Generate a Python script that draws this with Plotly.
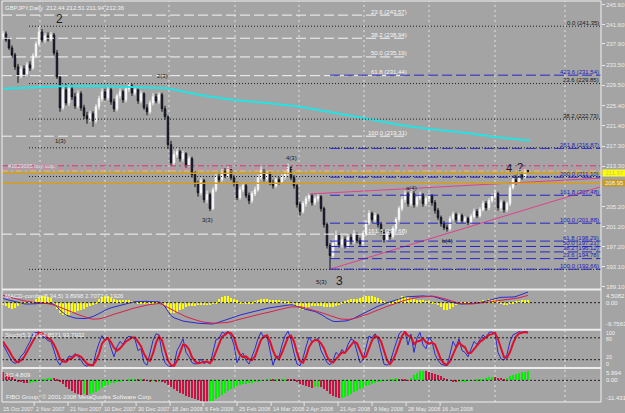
import plotly.graph_objects as go

# ------------------------------------------------------------------ data
opens = [239.2, 239.8, 238.6, 237.0, 235.6, 233.2, 231.4, 232.8, 231.8, 233.6,
         233.0, 235.4, 237.8, 240.2, 238.6, 239.4, 238.8, 239.6, 236.0, 231.2,
         225.0, 228.6, 226.0, 228.8, 227.2, 225.4, 227.8, 225.0, 223.4, 222.8,
         223.8, 222.4, 225.2, 226.8, 228.2, 227.0, 228.6, 226.2, 224.8, 227.4,
         228.2, 226.6, 228.8, 229.4, 228.0, 228.6, 226.4, 227.8, 225.0, 224.2,
         226.0, 227.2, 226.4, 227.6, 224.8, 223.2, 217.6, 214.0, 215.6, 216.2,
         214.8, 215.8, 213.6, 214.8, 211.6, 209.8, 208.0, 210.4, 206.6, 207.6,
         204.8, 208.6, 211.2, 210.6, 212.2, 211.4, 212.6, 211.0, 209.8, 207.0,
         208.6, 209.4, 207.4, 206.4, 207.8, 208.6, 211.0, 212.4, 210.8, 211.8,
         210.0, 209.4, 210.6, 210.2, 211.2, 211.8, 213.0, 211.0, 209.4, 205.6,
         204.2, 205.8, 206.8, 207.4, 206.0, 206.8, 207.2, 204.8, 201.6, 197.4,
         195.4, 197.8, 199.4, 197.6, 198.6, 197.4, 199.0, 198.2, 199.6, 198.4,
         197.8, 199.8, 202.0, 203.8, 202.6, 203.4, 201.6, 200.0, 198.6, 199.6,
         199.2, 200.8, 202.6, 204.8, 206.6, 207.8, 205.8, 207.8, 205.6, 207.0,
         207.6, 205.8, 206.8, 207.4, 206.0, 204.4, 203.0, 201.8, 201.0, 200.8,
         202.8, 203.6, 202.6, 203.4, 202.4, 202.8, 202.0, 203.2, 204.2, 203.4,
         204.6, 205.8, 205.0, 206.4, 207.2, 207.8, 205.0, 206.0, 204.6, 205.8,
         209.0, 210.6, 210.2, 211.4, 211.2, 212.44]
highs = [240.4, 240.3, 239.1, 237.5, 236.0, 233.8, 233.4, 233.5, 234.2, 234.3,
         235.9, 238.3, 241.35, 240.8, 239.9, 240.1, 240.2, 240.0, 236.6, 231.5,
         229.4, 229.8, 229.6, 229.7, 228.0, 228.5, 228.3, 225.6, 224.2, 224.4,
         224.3, 225.7, 227.4, 228.9, 228.8, 229.1, 229.0, 226.8, 227.8, 228.9,
         228.6, 229.3, 230.1, 229.8, 229.2, 228.9, 228.4, 228.1, 225.7, 226.5,
         227.9, 227.8, 228.1, 228.0, 225.4, 223.5, 218.4, 216.4, 216.9, 216.6,
         216.4, 216.1, 215.4, 215.2, 212.3, 210.4, 211.0, 210.8, 208.4, 208.0,
         209.1, 211.8, 212.0, 212.8, 212.9, 213.4, 213.0, 211.5, 210.2, 209.2,
         210.0, 209.8, 208.0, 208.3, 209.2, 211.6, 213.2, 212.8, 212.4, 212.2,
         210.6, 211.0, 211.1, 211.7, 212.3, 213.8, 213.3, 211.5, 209.8, 206.2,
         206.3, 207.3, 207.9, 207.8, 207.3, 207.8, 207.5, 205.2, 202.0, 197.9,
         198.6, 200.4, 199.9, 199.4, 199.2, 199.7, 199.6, 200.5, 200.0, 199.0,
         200.3, 202.5, 204.5, 204.2, 204.0, 203.8, 202.1, 200.6, 200.2, 200.3,
         201.3, 203.1, 205.3, 207.3, 208.4, 208.2, 208.8, 208.3, 207.6, 208.2,
         207.9, 207.3, 208.0, 207.7, 206.5, 204.9, 203.4, 202.3, 201.6, 203.3,
         204.2, 204.0, 203.9, 203.8, 203.3, 203.2, 203.7, 204.8, 204.7, 205.1,
         206.4, 206.3, 206.9, 207.8, 208.6, 208.2, 206.6, 206.4, 206.2, 209.5,
         211.2, 211.0, 211.9, 212.0, 212.9, 212.51]
lows = [238.7, 238.2, 236.6, 235.0, 232.6, 230.0, 230.9, 231.2, 231.3, 232.4,
        232.6, 235.0, 237.4, 238.1, 238.0, 238.3, 238.3, 235.5, 230.8, 224.2,
        224.6, 225.5, 225.4, 226.6, 224.8, 224.9, 224.4, 222.7, 221.8, 222.2,
        221.2, 221.9, 224.6, 226.2, 226.4, 226.5, 225.6, 224.2, 224.3, 226.8,
        226.0, 226.1, 228.2, 227.4, 227.5, 225.8, 225.9, 224.6, 223.5, 223.8,
        225.5, 225.9, 225.8, 224.2, 222.6, 216.8, 213.4, 213.5, 215.0, 214.2,
        214.2, 213.0, 213.1, 211.0, 209.1, 207.2, 207.5, 206.0, 205.9, 204.3,
        204.5, 208.1, 210.0, 210.2, 210.9, 211.0, 210.5, 209.2, 206.5, 206.6,
        208.1, 206.9, 205.7, 205.9, 207.3, 208.2, 210.6, 210.2, 210.3, 209.5,
        208.8, 209.0, 209.6, 209.8, 210.6, 211.3, 210.5, 208.8, 205.0, 203.4,
        203.8, 205.2, 206.2, 205.4, 205.5, 206.2, 204.2, 201.0, 196.8, 192.66,
        194.9, 197.2, 197.0, 197.0, 196.8, 196.9, 197.6, 197.7, 197.9, 197.1,
        197.3, 199.3, 201.5, 202.0, 202.0, 201.0, 199.4, 198.0, 198.1, 198.6,
        198.8, 200.3, 202.1, 204.3, 206.0, 205.2, 205.3, 205.0, 205.1, 206.5,
        205.2, 205.3, 206.3, 205.4, 203.8, 202.5, 201.2, 200.5, 200.2, 200.4,
        202.3, 202.0, 202.1, 201.9, 202.0, 201.5, 201.6, 202.8, 202.9, 203.0,
        204.2, 204.4, 204.5, 206.0, 206.8, 204.4, 204.3, 204.0, 204.1, 205.3,
        208.6, 209.6, 209.7, 210.6, 210.8, 211.94]
closes = [239.8, 238.6, 237.0, 235.6, 233.2, 231.4, 232.8, 231.8, 233.6, 233.0,
          235.4, 237.8, 240.2, 238.6, 239.4, 238.8, 239.6, 236.0, 231.2, 225.0,
          228.6, 226.0, 228.8, 227.2, 225.4, 227.8, 225.0, 223.4, 222.8, 223.8,
          222.4, 225.2, 226.8, 228.2, 227.0, 228.6, 226.2, 224.8, 227.4, 228.2,
          226.6, 228.8, 229.4, 228.0, 228.6, 226.4, 227.8, 225.0, 224.2, 226.0,
          227.2, 226.4, 227.6, 224.8, 223.2, 217.6, 214.0, 215.6, 216.2, 214.8,
          215.8, 213.6, 214.8, 211.6, 209.8, 208.0, 210.4, 206.6, 207.6, 204.8,
          208.6, 211.2, 210.6, 212.2, 211.4, 212.6, 211.0, 209.8, 207.0, 208.6,
          209.4, 207.4, 206.4, 207.8, 208.6, 211.0, 212.4, 210.8, 211.8, 210.0,
          209.4, 210.6, 210.2, 211.2, 211.8, 213.0, 211.0, 209.4, 205.6, 204.2,
          205.8, 206.8, 207.4, 206.0, 206.8, 207.2, 204.8, 201.6, 197.4, 195.4,
          197.8, 199.4, 197.6, 198.6, 197.4, 199.0, 198.2, 199.6, 198.4, 197.8,
          199.8, 202.0, 203.8, 202.6, 203.4, 201.6, 200.0, 198.6, 199.6, 199.2,
          200.8, 202.6, 204.8, 206.6, 207.8, 205.8, 207.8, 205.6, 207.0, 207.6,
          205.8, 206.8, 207.4, 206.0, 204.4, 203.0, 201.8, 201.0, 200.8, 202.8,
          203.6, 202.6, 203.4, 202.4, 202.8, 202.0, 203.2, 204.2, 203.4, 204.6,
          205.8, 205.0, 206.4, 207.2, 207.8, 205.0, 206.0, 204.6, 205.8, 209.0,
          210.6, 210.2, 211.4, 211.2, 212.4, 212.36]

# moving average (cyan) vertices: bar index / value
ma_bars = [0, 9, 19, 32.3, 54.7, 65.7, 76.7, 88, 99, 120, 132.3, 142, 154.7, 164, 175.7]
ma_vals = [228.83, 229.1, 229.31, 229.37, 228.91, 227.56, 226.56, 225.96, 225.20,
           222.95, 221.55, 220.75, 219.95, 219.15, 218.41]

macd_main = [1.5, 1.2, 0.9, 0.6, 0.3, 0.0, -0.3, -0.4, -0.5, -0.5,
             -0.5, -0.4, -0.2, -0.2, -0.3, -0.3, -0.3, -0.6, -1.5, -2.8,
             -3.8, -4.6, -5.0, -5.4, -5.7, -5.8, -5.9, -5.9, -5.8, -5.5,
             -5.1, -4.6, -4.0, -3.3, -2.8, -2.3, -1.9, -1.6, -1.2, -0.9,
             -0.6, -0.3, 0.0, 0.3, 0.4, 0.4, 0.5, 0.5, 0.5, 0.4,
             0.4, 0.3, 0.3, -0.4, -1.5, -3.2, -4.8, -5.6, -6.1, -6.5,
             -6.8, -7.0, -7.2, -7.3, -7.5, -7.6, -7.7, -7.8, -7.9, -8.0,
             -7.9, -7.6, -7.2, -6.8, -6.5, -6.1, -5.7, -5.3, -4.9, -4.6,
             -4.3, -4.0, -3.8, -3.5, -3.2, -2.9, -2.6, -2.3, -2.1, -1.9,
             -1.7, -1.5, -1.3, -1.2, -1.1, -0.9, -0.8, -0.9, -1.4, -1.9,
             -2.2, -2.5, -2.7, -3.0, -3.3, -3.8, -4.3, -5.0, -5.8, -6.5,
             -6.9, -7.0, -7.0, -6.9, -6.8, -6.6, -6.3, -5.8, -5.2, -4.6,
             -4.0, -3.4, -2.8, -2.3, -1.8, -1.3, -0.9, -0.4, 0.0, 0.3,
             0.6, 1.0, 1.5, 1.8, 2.1, 2.2, 2.3, 2.4, 2.4, 2.5,
             2.5, 2.4, 2.4, 2.4, 2.1, 1.7, 1.3, 1.0, 0.7, 0.3,
             0.0, -0.3, -0.4, -0.5, -0.5, -0.5, -0.3, -0.2, -0.1, 0.1,
             0.3, 0.6, 0.9, 1.2, 1.6, 1.9, 2.0, 2.0, 2.0, 2.0,
             2.1, 2.3, 2.7, 3.1, 3.5, 3.8998]
macd_signal = [2.7, 2.4, 2.1, 1.8, 1.4, 1.1, 0.9, 0.7, 0.5, 0.4,
               0.2, 0.1, 0.0, -0.1, -0.3, -0.4, -0.6, -0.8, -1.2, -1.7,
               -2.2, -2.7, -3.1, -3.6, -4.0, -4.4, -4.8, -5.2, -5.6, -5.9,
               -6.1, -6.1, -6.0, -5.8, -5.5, -5.1, -4.7, -4.3, -4.0, -3.7,
               -3.3, -3.0, -2.6, -2.2, -1.9, -1.6, -1.3, -1.1, -0.9, -0.7,
               -0.5, -0.4, -0.3, -0.6, -1.1, -1.7, -2.4, -3.0, -3.6, -4.2,
               -4.7, -5.2, -5.6, -6.0, -6.4, -6.8, -7.0, -7.2, -7.4, -7.5,
               -7.6, -7.6, -7.6, -7.5, -7.4, -7.3, -7.1, -6.8, -6.4, -6.1,
               -5.8, -5.5, -5.2, -4.9, -4.7, -4.4, -4.2, -3.9, -3.7, -3.4,
               -3.1, -2.8, -2.5, -2.2, -2.0, -1.8, -1.6, -1.5, -1.5, -1.5,
               -1.7, -2.0, -2.3, -2.6, -2.9, -3.2, -3.6, -4.0, -4.4, -4.8,
               -5.2, -5.6, -5.9, -6.1, -6.2, -6.2, -6.1, -5.9, -5.6, -5.2,
               -4.9, -4.5, -4.1, -3.6, -3.1, -2.7, -2.2, -1.8, -1.4, -1.0,
               -0.6, -0.2, 0.3, 0.6, 0.9, 1.2, 1.5, 1.7, 1.9, 2.1,
               2.2, 2.3, 2.4, 2.4, 2.3, 2.1, 1.8, 1.5, 1.2, 0.9,
               0.5, 0.1, -0.3, -0.4, -0.5, -0.5, -0.5, -0.4, -0.3, -0.2,
               -0.1, 0.0, 0.2, 0.4, 0.6, 0.8, 1.0, 1.1, 1.2, 1.3,
               1.4, 1.5, 1.8, 2.1, 2.4, 2.7072]
macd_hist = [-0.5, -1.2, -1.8, -2.0, -1.7, -1.2, 0.2, 0.3, 0.3, 0.4,
             0.8, 1.6, 2.3, 2.6, 2.7, 2.4, 1.9, 0.6, -2.0, -3.8,
             -4.5, -4.6, -4.2, -3.8, -3.4, -3.0, -2.5, -2.0, -1.5, -1.0,
             -0.5, 0.4, 1.4, 2.2, 2.7, 2.5, 2.0, 1.6, 1.3, 1.2,
             1.1, 1.0, 1.0, 0.9, 0.8, 0.7, 0.6, 0.5, 0.5, 0.4,
             0.3, 0.2, 0.2, -0.3, -1.2, -2.6, -3.6, -3.8, -3.3, -2.6,
             -2.0, -1.5, -1.2, -1.0, -0.9, -0.8, -0.7, -0.6, -0.5, -0.4,
             -0.2, 0.6, 1.4, 2.2, 2.7, 2.5, 2.0, 1.5, 1.0, 0.6,
             0.5, 0.5, 0.4, 0.5, 0.8, 1.2, 1.5, 1.6, 1.5, 1.3,
             1.2, 1.1, 1.0, 0.9, 0.8, 0.7, 0.5, -0.6, -1.5, -2.2,
             -2.4, -2.0, -1.6, -1.2, -1.0, -1.0, -1.1, -1.3, -1.5, -1.6,
             -1.5, -1.2, -0.6, 0.3, 0.8, 1.2, 1.4, 1.5, 1.7, 2.0,
             2.3, 2.6, 2.7, 2.5, 2.2, 1.8, 1.3, 0.8, 0.4, 0.3,
             0.6, 1.2, 2.0, 2.6, 2.7, 2.4, 1.9, 1.5, 1.2, 1.1,
             1.0, 0.9, 0.8, 0.6, 0.2, -0.6, -1.6, -2.4, -2.7, -2.3,
             -1.4, -0.4, 0.2, 0.4, 0.5, 0.5, 0.5, 0.5, 0.6, 0.8,
             1.1, 1.3, 1.5, 1.5, 1.4, 1.0, -0.2, -0.5, -0.4, 0.2,
             0.6, 0.8, 0.9, 1.0, 1.1, 1.1926]

stoch_k = [62, 45, 28, 15, 10, 14, 30, 38, 55, 70,
           92, 95, 96, 85, 80, 72, 70, 45, 18, 5,
           22, 15, 30, 28, 37, 30, 18, 6, 2, 8,
           4, 40, 65, 86, 72, 80, 52, 28, 55, 70,
           62, 78, 84, 82, 76, 45, 50, 12, 5, 35,
           72, 91, 88, 40, 12, 3, 1, 6, 45, 60,
           77, 40, 28, 12, 8, 10, 22, 9, 15, 8,
           40, 75, 78, 95, 92, 98, 85, 60, 12, 30,
           38, 18, 8, 30, 50, 78, 95, 80, 85, 45,
           5, 30, 28, 60, 85, 98, 75, 38, 8, 3,
           25, 55, 82, 68, 72, 78, 45, 30, 12, 6,
           18, 40, 32, 48, 38, 62, 77, 72, 45, 12,
           20, 55, 85, 80, 91, 75, 45, 8, 5, 12,
           40, 65, 90, 100, 98, 60, 90, 40, 80, 95,
           60, 50, 82, 70, 35, 18, 8, 5, 4, 35,
           70, 55, 77, 45, 40, 28, 50, 70, 62, 75,
           88, 80, 95, 96, 92, 40, 22, 19, 35, 70,
           88, 92, 97, 95, 98, 94.86]
stoch_d = [70, 58, 45, 30, 18, 13, 18, 27, 41, 54,
           72, 86, 94, 92, 87, 79, 74, 62, 44, 23,
           15, 14, 22, 24, 32, 32, 28, 18, 9, 5,
           5, 17, 36, 64, 74, 79, 68, 53, 45, 51,
           62, 70, 75, 81, 81, 68, 57, 36, 22, 17,
           37, 66, 84, 73, 47, 18, 5, 3, 17, 37,
           61, 59, 48, 27, 16, 10, 13, 14, 15, 11,
           21, 41, 64, 83, 88, 95, 92, 81, 52, 34,
           27, 29, 21, 19, 29, 53, 74, 84, 87, 70,
           45, 27, 21, 39, 58, 81, 86, 70, 40, 16,
           12, 28, 54, 68, 74, 73, 65, 51, 29, 16,
           12, 21, 30, 40, 39, 49, 59, 70, 65, 43,
           26, 29, 53, 73, 85, 82, 70, 43, 19, 8,
           19, 39, 65, 85, 96, 86, 83, 63, 70, 72,
           78, 68, 64, 67, 62, 41, 20, 10, 6, 15,
           36, 53, 67, 59, 54, 38, 39, 49, 61, 69,
           75, 81, 88, 90, 94, 76, 51, 27, 25, 41,
           64, 83, 92, 95, 96, 93.79]

ao_vals = [4.5, 3.6, 2.6, 1.6, 0.6, -0.4, -0.9, -1.3, -1.4, -1.2,
           -0.9, -0.5, 0.0, 0.4, 0.8, 1.1, 1.3, 1.2, 0.6, -0.8,
           -2.0, -3.4, -4.6, -5.6, -6.6, -7.4, -7.6, -7.3, -7.5, -7.0,
           -6.8, -6.0, -5.0, -4.0, -3.0, -2.2, -1.6, -1.2, -0.9, -0.5,
           -0.3, 0.0, 0.2, 0.4, 0.5, 0.4, 0.5, 0.2, -0.2, -0.4,
           -0.3, -0.6, -0.5, -0.8, -1.2, -2.2, -3.4, -4.6, -5.6, -6.5,
           -7.4, -8.2, -8.9, -9.5, -10.1, -10.6, -10.9, -11.2, -11.43, -11.3,
           -10.8, -10.0, -9.0, -7.9, -6.8, -5.7, -4.6, -3.8, -3.2, -2.6,
           -2.1, -1.8, -1.6, -1.3, -1.0, -0.6, -0.3, 0.0, 0.3, 0.5,
           0.4, 0.6, 0.5, 0.7, 0.8, 0.6, 0.5, 0.2, -0.8, -1.8,
           -2.6, -3.2, -3.5, -3.8, -3.6, -3.3, -3.6, -4.4, -5.6, -7.0,
           -8.2, -9.0, -9.4, -9.2, -8.7, -8.0, -7.2, -6.3, -5.4, -4.6,
           -3.8, -3.1, -2.4, -1.8, -1.3, -0.9, -0.6, -0.3, 0.1, 0.4,
           0.7, 1.0, 0.9, 0.6, 0.3, 0.1, 1.4, 2.8, 4.0, 4.7,
           5.0, 4.8, 4.5, 4.1, 3.6, 3.0, 2.3, 1.5, 0.7, 0.0,
           -0.6, -1.0, -0.9, -0.7, -0.5, -0.3, -0.1, 0.1, 0.3, 0.6,
           0.9, 1.3, 1.6, 1.9, 1.7, 1.4, 1.1, 0.9, 1.5, 2.2,
           2.9, 3.5, 4.0, 4.4, 4.6, 4.809]

n = len(closes)
for name, arr in [("opens", opens), ("highs", highs), ("lows", lows), ("macd_main", macd_main),
                  ("macd_signal", macd_signal), ("macd_hist", macd_hist), ("stoch_k", stoch_k),
                  ("stoch_d", stoch_d), ("ao_vals", ao_vals)]:
    if len(arr) != n:
        raise ValueError(f"{name} has {len(arr)} values, expected {n}")
bars = list(range(n))

# Fibonacci / level objects
white_fib_levels = [243.57, 238.94, 235.19, 231.44, 219.31, 199.68]
white_fib_labels = ["23.6 (243.57)", "38.2 (238.94)", "50.0 (235.19)", "61.8 (231.44)",
                    "100.0 (219.31)", "161.8 (199.68)"]
black_fib_levels = [241.35, 229.85, 222.73, 216.98, 211.23, 192.62]
black_fib_labels = ["0.0 (241.35)", "23.6 (229.85)", "38.2 (222.73)", "", "", ""]
blue_fib_levels = [231.54, 216.87, 211.10, 207.48, 201.88, 198.29, 197.21, 196.12, 194.78, 192.66]
blue_fib_labels = ["423.6 (231.54)", "261.8 (216.87)", "200.0 (211.10)", "161.8 (207.48)",
                   "100.0 (201.88)", "61.8 (198.29)", "50.0 (197.21)", "38.2 (196.12)",
                   "23.6 (194.78)", "100.0 (192.66)"]
order_levels = [213.38, 212.84, 212.33]
order_colors = ["#e0307a", "#e87aa8", "#e6c45a"]
orange_levels = [211.87, 209.87]

trend_lower_bars, trend_lower_vals = [109, 199], [192.66, 209.13]
trend_upper_bars, trend_upper_vals = [102, 199.3], [207.72, 210.90]

# 209.20 sits under the highlighted 208.95 price box, as in the reference
price_ticks = [245.60, 241.60, 237.90, 233.50, 229.50, 225.40, 221.40, 217.30,
               213.30, 205.20, 201.20, 197.20, 193.10, 189.10]

date_labels = ["15 Oct 2007", "2 Nov 2007", "21 Nov 2007", "10 Dec 2007", "30 Dec 2007",
               "18 Jan 2008", "6 Feb 2008", "25 Feb 2008", "14 Mar 2008", "2 Apr 2008",
               "21 Apr 2008", "9 May 2008", "28 May 2008", "16 Jun 2008"]
date_bars = [-0.33, 10.67, 22, 33.33, 44.67, 56, 67, 78.33, 89.67, 100.67, 112, 123.33, 134.67, 146]
grid_bars = [12.33, 34, 55.33, 77.33, 98.67, 120.33, 142, 164, 187.33]

wave_labels = [("2", 18.7, 242.8, 12), ("2(3)", 53.3, 231.4, 6), ("1", 54.3, 224.0, 8),
               ("1(3)", 19, 218.35, 6), ("3(3)", 68, 202.5, 6), ("4(3)", 96, 214.95, 6),
               ("5(3)", 106, 190.1, 6), ("3", 112, 190.3, 12), ("a(4)", 136.3, 208.9, 6),
               ("b(4)", 148, 198.3, 6), ("4", 168.7, 212.9, 11), ("?", 172.3, 213.1, 11),
               ("c(4)", 171.7, 211.3, 6)]

# ------------------------------------------------------------------ layout geometry
W, H = 625, 413
ML, MR, MT, MB = 2, 24, 1, 11
PH = H - MT - MB
BOTTOM = H - MB


def py(ypx):
    return (BOTTOM - ypx) / PH


X0, X1 = -0.333, 199.333
BG = "#a4a4a4"
FONT = "Liberation Sans"
WHITE_T = "#f2f2f2"

fig = go.Figure()

fig.add_trace(go.Candlestick(
    x=bars, open=opens, high=highs, low=lows, close=closes,
    increasing=dict(line=dict(color="#f6f6f6", width=1), fillcolor="#ffffff"),
    decreasing=dict(line=dict(color="#101010", width=1), fillcolor="#1c1c96"),
    whiskerwidth=0, hoverinfo="skip", showlegend=False, xaxis="x", yaxis="y"))

fig.add_trace(go.Scatter(x=ma_bars, y=ma_vals, mode="lines",
                         line=dict(color="#22e4e4", width=2), hoverinfo="skip",
                         showlegend=False, yaxis="y"))
fig.add_trace(go.Scatter(x=trend_lower_bars, y=trend_lower_vals, mode="lines",
                         line=dict(color="#e0408c", width=1), hoverinfo="skip",
                         showlegend=False, yaxis="y"))
fig.add_trace(go.Scatter(x=trend_upper_bars, y=trend_upper_vals, mode="lines",
                         line=dict(color="#e0408c", width=1), hoverinfo="skip",
                         showlegend=False, yaxis="y"))

# MACD panel
fig.add_trace(go.Bar(x=bars, y=macd_hist, marker=dict(color="#ffff00", line=dict(width=0)),
                     width=0.62, hoverinfo="skip", showlegend=False, yaxis="y2"))
fig.add_trace(go.Scatter(x=bars, y=macd_main, mode="lines", line=dict(color="#2a2ad2", width=1),
                         hoverinfo="skip", showlegend=False, yaxis="y2"))
fig.add_trace(go.Scatter(x=bars, y=macd_signal, mode="lines", line=dict(color="#d8204a", width=1),
                         hoverinfo="skip", showlegend=False, yaxis="y2"))

# Stochastic panel
fig.add_trace(go.Scatter(x=bars, y=stoch_k, mode="lines", line=dict(color="#2a2ad2", width=1),
                         hoverinfo="skip", showlegend=False, yaxis="y3"))
fig.add_trace(go.Scatter(x=bars, y=stoch_d, mode="lines", line=dict(color="#e0102a", width=2),
                         hoverinfo="skip", showlegend=False, yaxis="y3"))

# AO panel
ao_colors = ["#cc1040"] + ["#00f000" if ao_vals[i] > ao_vals[i - 1] else "#cc1040" for i in range(1, n)]
fig.add_trace(go.Bar(x=bars, y=ao_vals, marker=dict(color=ao_colors, line=dict(width=0)),
                     width=0.62, hoverinfo="skip", showlegend=False, yaxis="y4"))

shapes = []
for gb in grid_bars:
    shapes.append(dict(type="line", xref="x", yref="paper", x0=gb, x1=gb, y0=0, y1=1,
                       line=dict(color="#e2e2e2", width=1, dash="2px,3px"), layer="below"))
for lv in white_fib_levels:
    shapes.append(dict(type="line", xref="x", yref="y", x0=X0, x1=135, y0=lv, y1=lv,
                       line=dict(color="#f4f4f4", width=1, dash="10px,4px"), layer="above"))
for lv in black_fib_levels:
    shapes.append(dict(type="line", xref="x", yref="y", x0=8.67, x1=X1, y0=lv, y1=lv,
                       line=dict(color="#1e1e1e", width=1, dash="1px,2px"), layer="above"))
for lv in blue_fib_levels:
    shapes.append(dict(type="line", xref="x", yref="y", x0=109, x1=X1, y0=lv, y1=lv,
                       line=dict(color="#2626c8", width=1, dash="10px,4px"), layer="above"))
for lv, c in zip(order_levels, order_colors):
    shapes.append(dict(type="line", xref="x", yref="y", x0=X0, x1=X1, y0=lv, y1=lv,
                       line=dict(color=c, width=1, dash="6px,3px,2px,3px"), layer="above"))
for lv in orange_levels:
    shapes.append(dict(type="line", xref="x", yref="y", x0=X0, x1=X1, y0=lv, y1=lv,
                       line=dict(color="#d69e1c", width=1.5), layer="above"))
for ax, lv in [("y2", 0), ("y3", 80), ("y3", 20), ("y4", 0)]:
    shapes.append(dict(type="line", xref="x", yref=ax, x0=X0, x1=X1, y0=lv, y1=lv,
                       line=dict(color="#1e1e1e", width=1, dash="2px,2px"), layer="above"))
for ypx in [289.5, 329.75, 368.0]:
    shapes.append(dict(type="line", xref="paper", yref="paper", x0=0, x1=1, y0=py(ypx), y1=py(ypx),
                       line=dict(color="#ececec", width=2), layer="above"))
shapes.append(dict(type="rect", xref="paper", yref="paper", x0=0, x1=1, y0=0, y1=1,
                   line=dict(color="#f0f0f0", width=1), layer="above"))
for db in date_bars[1:]:
    shapes.append(dict(type="line", xref="x", yref="paper", x0=db - 0.3, x1=db - 0.3,
                       y0=0, y1=-4 / PH, line=dict(color="#e8e8e8", width=1)))

ann = []


def txt(text, x, y, xref="x", yref="y", size=6, color=WHITE_T, xanchor="left",
        yanchor="middle", xshift=0, yshift=0, **kw):
    d = dict(text=text, x=x, y=y, xref=xref, yref=yref, showarrow=False,
             font=dict(family=FONT, size=size, color=color), xanchor=xanchor,
             yanchor=yanchor, xshift=xshift, yshift=yshift, borderpad=0)
    d.update(kw)
    ann.append(d)


for lv, lb in zip(white_fib_levels, white_fib_labels):
    txt(lb, 135, lv, xanchor="right", yshift=3.5, color="#f6f6f6")
for lv, lb in zip(black_fib_levels, black_fib_labels):
    if lb:
        txt(lb, 199, lv, xanchor="right", yshift=3.5, color="#161616")
for lv, lb in zip(blue_fib_levels, blue_fib_labels):
    txt(lb, 199, lv, xanchor="right", yshift=3.5, color="#2020c0")

for t, bx, pv, sz in wave_labels:
    txt(t, bx, pv, xanchor="center", size=sz, color="#1a1a1a")

txt("#1029305 buy stop", 1.2, 213.38, size=5.5, color="#f4d8e6")

txt("GBPJPY,Daily  212.44 212.51 211.94 212.36", 0.3, py(7.5), yref="paper", size=6)
txt("MACD-combo(5,34,5) 3.8998 2.7072 1.1926", 0.3, py(296), yref="paper", size=6)
txt("Stoch(5,3,3) 94.8571 93.7932", 0.3, py(335), yref="paper", size=6)
txt("AO 4.809", 0.3, py(375), yref="paper", size=6)
txt("FIBO Group, \u00a9 2001-2008 MetaQuotes Software Corp.", 0.6, py(397), yref="paper", size=6)

side = [("4.5082", 295.5, 6), ("0.00", 303, 6), ("-9.7563", 323.5, 6),
        ("100", 332.6, 5.3), ("80", 338.6, 5.3), ("20", 356.8, 5.3), ("0", 363.8, 5.3),
        ("5.994", 372.7, 6), ("0.00", 380.3, 6), ("-11.431", 397.7, 6)]
for t, ypx, sz in side:
    txt(t, 1, py(ypx), xref="paper", yref="paper", xshift=4, size=sz)

txt("211.97", 1, 211.93, xref="paper", xshift=1, size=6, color="#c4c4a0",
    bgcolor="#ffff00", width=23, align="center")
txt("208.95", 1, 209.93, xref="paper", xshift=1, size=6, color="#f2f2f2",
    bgcolor="#c89b1e", width=23, align="center")

for lb, db in zip(date_labels, date_bars):
    txt(lb, db, 0, yref="paper", yanchor="top", yshift=-2.5, size=5.6, color="#ececec")

fig.update_layout(
    width=W, height=H, margin=dict(l=ML, r=MR, t=MT, b=MB),
    paper_bgcolor=BG, plot_bgcolor=BG, showlegend=False, bargap=0,
    font=dict(family=FONT, size=6, color=WHITE_T),
    shapes=shapes, annotations=ann,
    xaxis=dict(domain=[0, 1], range=[X0, X1], anchor="y4", showgrid=False, zeroline=False,
               showticklabels=False, showline=False, ticks="", rangeslider=dict(visible=False),
               fixedrange=True),
    yaxis=dict(domain=[py(289), 1], range=[188.69, 246.40], side="right", anchor="x",
               showgrid=False, zeroline=False, tickvals=price_ticks,
               ticktext=[f"{v:.2f}" for v in price_ticks], ticks="outside", ticklen=3,
               tickcolor="#e8e8e8", tickfont=dict(family=FONT, size=6, color="#ececec"),
               fixedrange=True),
    yaxis2=dict(domain=[py(329), py(290.5)], range=[-9.7563, 4.5082], anchor="x",
                showgrid=False, zeroline=False, showticklabels=False, fixedrange=True),
    yaxis3=dict(domain=[py(367), py(330.5)], range=[0, 100], anchor="x",
                showgrid=False, zeroline=False, showticklabels=False, fixedrange=True),
    yaxis4=dict(domain=[0, py(369)], range=[-11.431, 5.994], anchor="x",
                showgrid=False, zeroline=False, showticklabels=False, fixedrange=True),
)

fig.write_html("out.html")
